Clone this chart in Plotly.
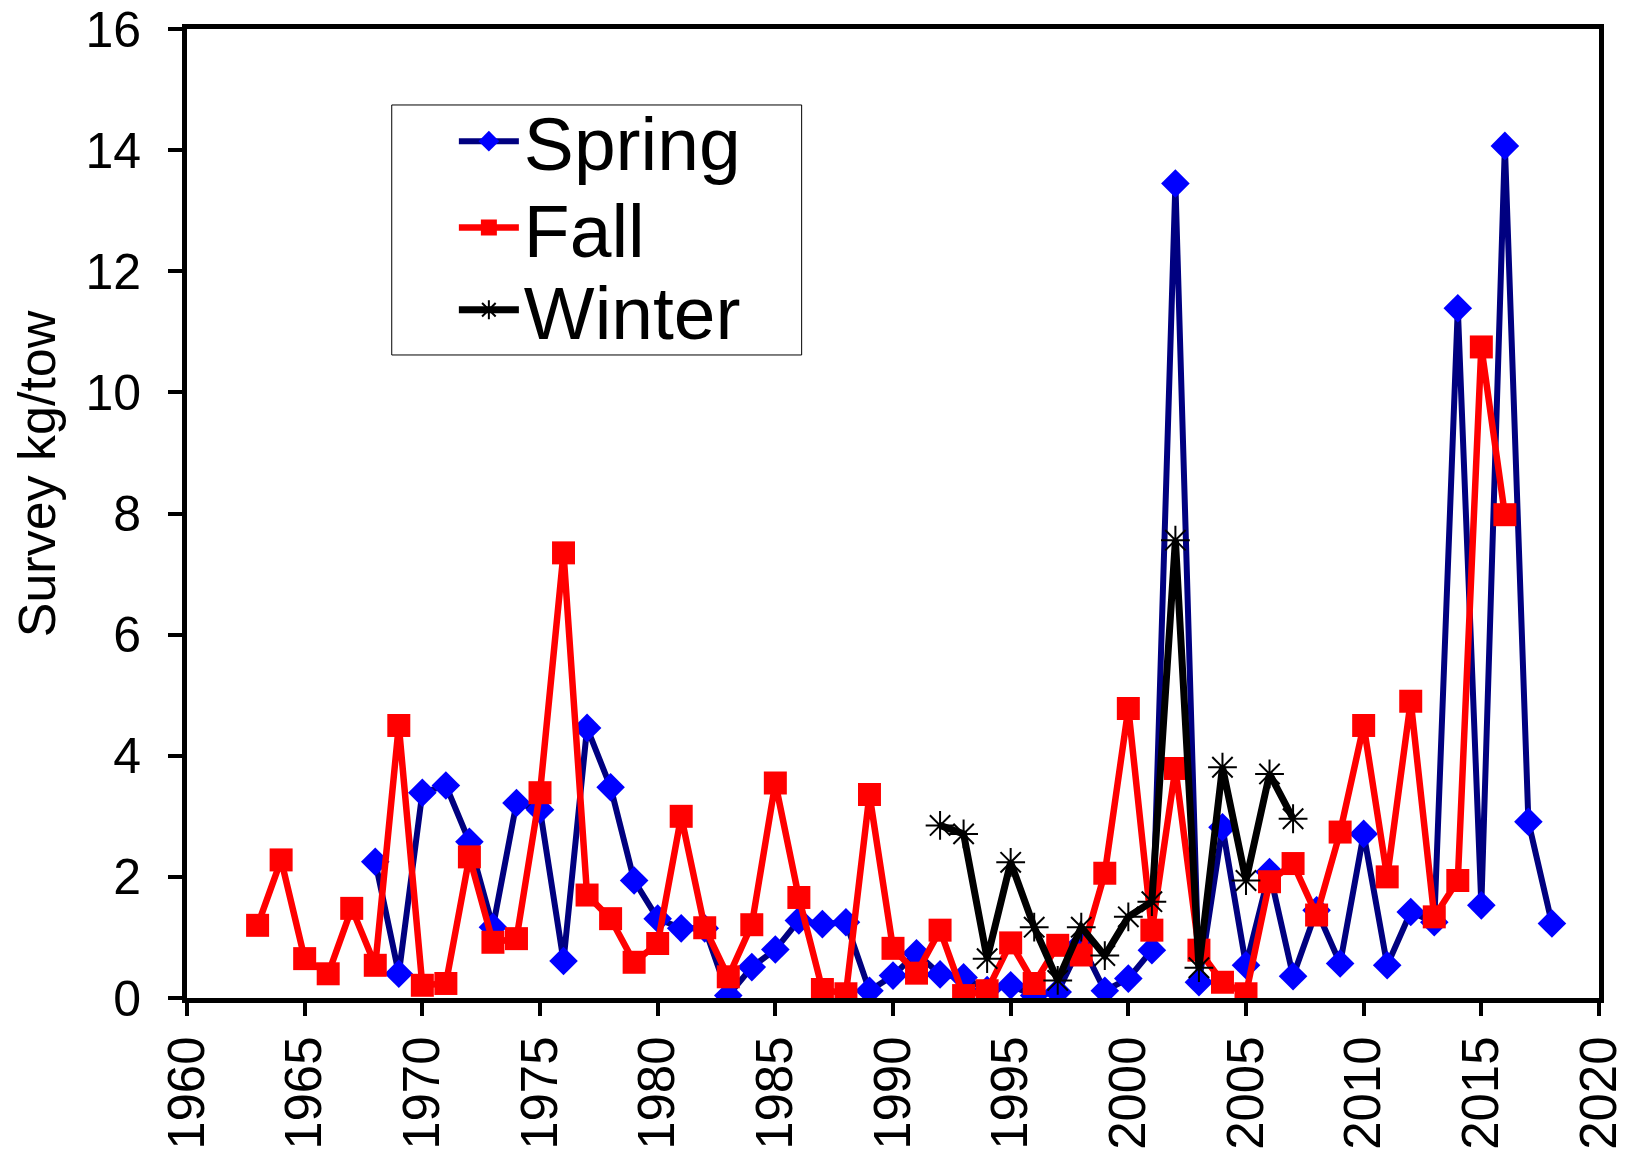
"""Survey kg/tow by season, 1963-2018."""

import plotly.graph_objects as go

# Spring survey (blue diamonds)
spring_years = list(range(1968, 2019))
spring_vals = [
    2.25, 0.40, 3.39, 3.51, 2.58, 1.17, 3.22, 3.11, 0.61, 4.46,
    3.48, 1.94, 1.31, 1.15, 1.15, 0.04, 0.51, 0.80, 1.28, 1.22,
    1.25, 0.12, 0.37, 0.74, 0.39, 0.34, 0.13, 0.21, 0.04, 0.10,
    0.90, 0.12, 0.32, 0.79, 13.45, 0.26, 2.82, 0.54, 2.08, 0.36,
    1.45, 0.57, 2.71, 0.54, 1.42, 1.25, 11.39, 1.53, 14.07, 2.91,
    1.23,
]

# Fall survey (red squares)
fall_years = list(range(1963, 2017))
fall_vals = [
    1.20, 2.28, 0.65, 0.40, 1.48, 0.54, 4.50, 0.21, 0.24, 2.33,
    0.92, 0.98, 3.39, 7.35, 1.70, 1.31, 0.59, 0.90, 3.00, 1.16,
    0.35, 1.21, 3.55, 1.66, 0.14, 0.07, 3.36, 0.82, 0.41, 1.12,
    0.04, 0.12, 0.91, 0.24, 0.87, 0.71, 2.06, 4.78, 1.12, 3.79,
    0.79, 0.26, 0.07, 1.92, 2.22, 1.37, 2.74, 4.50, 2.00, 4.90,
    1.34, 1.94, 10.75, 7.98,
]

# Winter survey (black asterisks)
winter_years = list(range(1992, 2008))
winter_vals = [
    2.85, 2.71, 0.65, 2.24, 1.17, 0.29, 1.17, 0.70, 1.34, 1.59,
    7.56, 0.50, 3.81, 1.94, 3.70, 2.96,
]

FONT = "Liberation Sans, Arial, sans-serif"

fig = go.Figure()
fig.add_trace(
    go.Scatter(
        x=spring_years,
        y=spring_vals,
        name="Spring",
        mode="lines+markers",
        line=dict(color="#000080", width=6),
        marker=dict(color="#0000FF", size=22, symbol="diamond"),
        legend="legend",
    )
)
fig.add_trace(
    go.Scatter(
        x=fall_years,
        y=fall_vals,
        name="Fall",
        mode="lines+markers",
        line=dict(color="#FF0000", width=6.5),
        marker=dict(color="#FF0000", size=23, symbol="square"),
        legend="legend2",
    )
)
fig.add_trace(
    go.Scatter(
        x=winter_years,
        y=winter_vals,
        name="Winter",
        mode="lines+markers",
        line=dict(color="#000000", width=7),
        marker=dict(
            color="#000000",
            size=24,
            symbol="asterisk-open",
            line=dict(color="#000000", width=2),
        ),
        legend="legend3",
    )
)

# one legend per row, so that rows sit where the reference puts them
leg = dict(
    x=0.189,
    xanchor="left",
    yanchor="middle",
    bgcolor="rgba(0,0,0,0)",
    borderwidth=0,
    itemwidth=60,
    font=dict(size=75, family=FONT, color="black"),
)

# page body adds an 8px margin, so the figure is 8px smaller than the window
fig.update_layout(
    width=1625,
    height=1141,
    margin=dict(l=179, r=34, t=21, b=151),
    paper_bgcolor="white",
    plot_bgcolor="white",
    font=dict(family=FONT, color="black", size=50),
    showlegend=True,
    legend=dict(leg, y=0.884),
    legend2=dict(leg, y=0.795),
    legend3=dict(leg, y=0.710),
    shapes=[
        dict(
            type="rect",
            xref="paper",
            yref="paper",
            x0=0.145,
            x1=0.4353,
            y0=0.6636,
            y1=0.9216,
            line=dict(color="black", width=1),
            fillcolor="white",
            layer="below",
        )
    ],
    annotations=[
        dict(
            text="Survey kg/tow",
            xref="paper",
            yref="paper",
            x=-0.1066,
            y=0.541,
            xanchor="center",
            yanchor="middle",
            textangle=-90,
            showarrow=False,
            font=dict(size=52, family=FONT, color="black"),
        )
    ],
)
fig.update_xaxes(
    range=[1960, 2020],
    dtick=5,
    tick0=1960,
    tickangle=-90,
    ticks="outside",
    ticklen=13,
    tickwidth=4,
    tickcolor="black",
    showline=True,
    linewidth=5,
    linecolor="black",
    mirror=True,
    showgrid=False,
    zeroline=False,
    automargin=False,
    ticklabeloverflow="allow",
    tickfont=dict(size=51, family=FONT),
)
fig.update_yaxes(
    range=[0, 16],
    dtick=2,
    ticks="outside",
    ticklen=14,
    tickwidth=4,
    tickcolor="black",
    showline=True,
    linewidth=5,
    linecolor="black",
    mirror=True,
    showgrid=False,
    zeroline=False,
    automargin=False,
    ticklabeloverflow="allow",
    ticklabelstandoff=17,
    tickfont=dict(size=50, family=FONT),
)

fig.write_html("out.html")
